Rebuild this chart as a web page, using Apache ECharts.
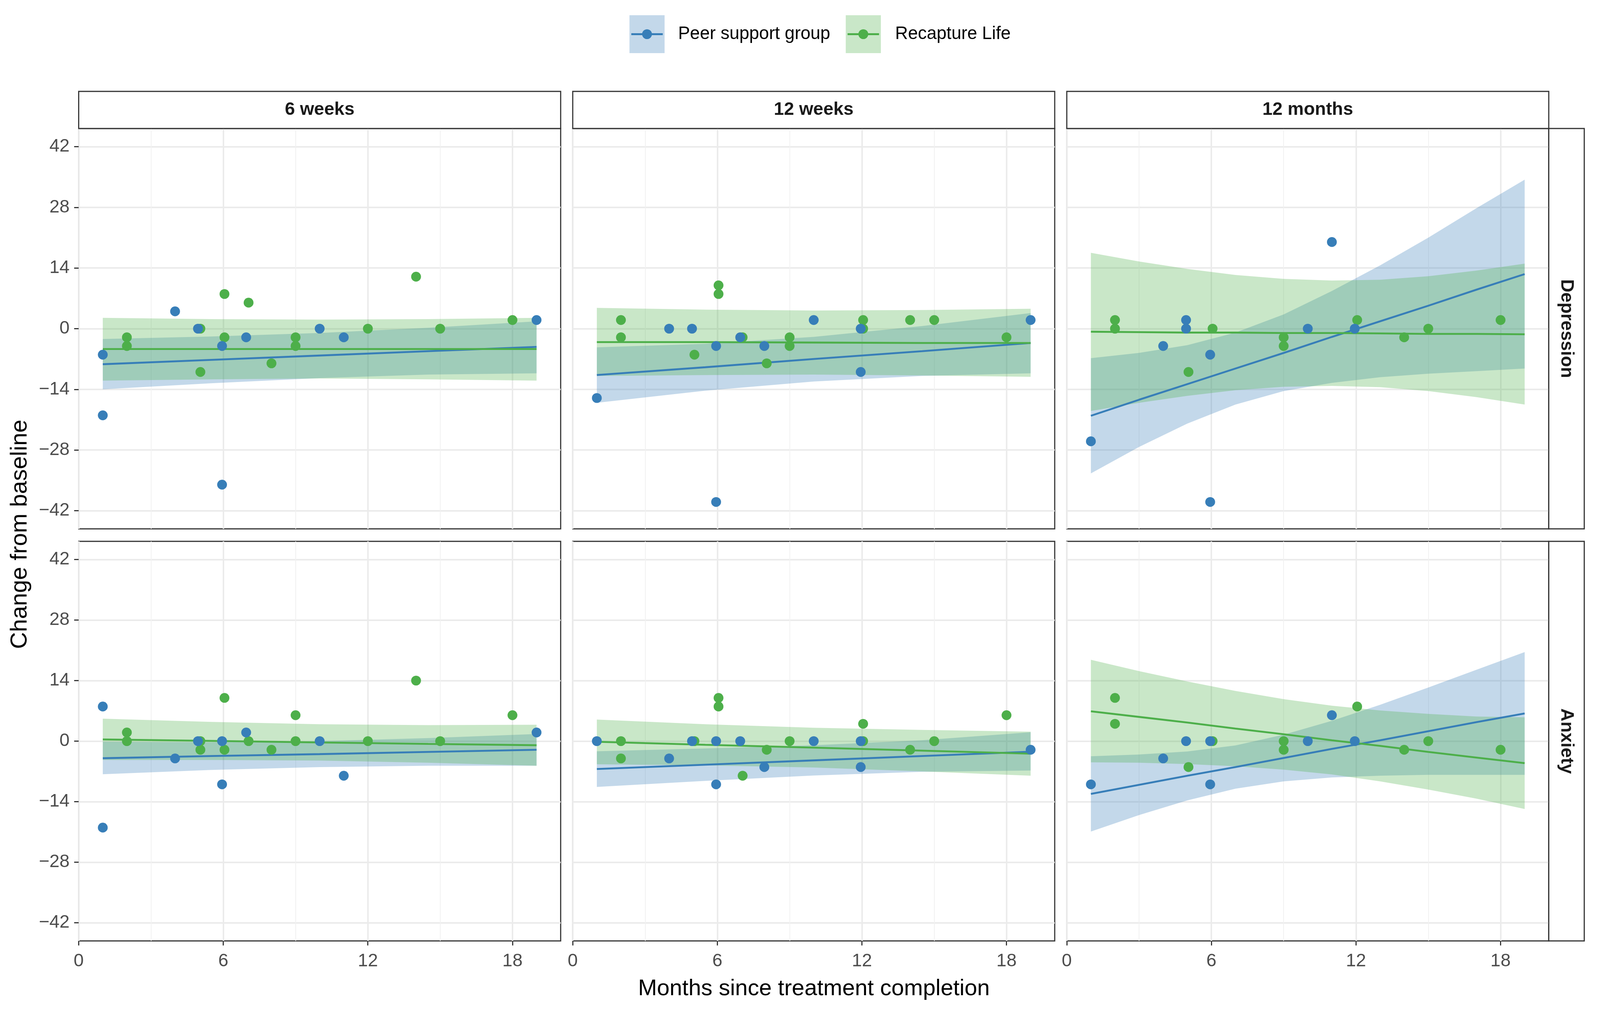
<!DOCTYPE html>
<html>
<head>
<meta charset="utf-8">
<script src="https://cdn.jsdelivr.net/npm/echarts@6/dist/echarts.min.js"></script>
<style>
html,body{margin:0;padding:0;background:#fff;overflow:hidden;}
#chart{width:100vw;height:100vh;}
</style>
</head>
<body>
<div id="chart"></div>
<script>
// ---------------- data ----------------
const TIMEPOINTS = ['6 weeks', '12 weeks', '12 months'];
const OUTCOMES = ['Depression', 'Anxiety'];
const GROUPS = ['Peer support group', 'Recapture Life'];
const X_TICKS = [0, 6, 12, 18];
const X_MINOR = [3, 9, 15];
const Y_TICKS = [-42, -28, -14, 0, 14, 28, 42];

// observed points [months, change] — Depression
const dep_6w_peer  = [[1,-6],[1,-20],[4,4],[5,0],[6,-4],[6,-36],[7,-2],[10,0],[11,-2],[19,2]];
const dep_6w_recap = [[2,-2],[2,-4],[5,0],[5,-10],[6,8],[6,-2],[7,6],[8,-8],[9,-2],[9,-4],[12,0],[14,12],[15,0],[18,2]];
const dep_12w_peer  = [[1,-16],[4,0],[5,0],[6,-4],[6,-40],[7,-2],[8,-4],[10,2],[12,0],[12,-10],[19,2]];
const dep_12w_recap = [[2,2],[2,-2],[5,-6],[6,10],[6,8],[7,-2],[8,-8],[9,-2],[9,-4],[12,2],[12,0],[14,2],[15,2],[18,-2]];
const dep_12m_peer  = [[1,-26],[4,-4],[5,2],[5,0],[6,-6],[6,-40],[10,0],[11,20],[12,0]];
const dep_12m_recap = [[2,2],[2,0],[5,-10],[6,0],[9,-2],[9,-4],[12,2],[14,-2],[15,0],[18,2]];
// Anxiety
const anx_6w_peer  = [[1,8],[1,-20],[4,-4],[5,0],[6,0],[6,-10],[7,2],[10,0],[11,-8],[19,2]];
const anx_6w_recap = [[2,2],[2,0],[5,0],[5,-2],[6,10],[6,-2],[7,0],[8,-2],[9,6],[9,0],[12,0],[14,14],[15,0],[18,6]];
const anx_12w_peer  = [[1,0],[4,-4],[5,0],[6,0],[6,-10],[7,0],[8,-6],[10,0],[12,0],[12,-6],[19,-2]];
const anx_12w_recap = [[2,0],[2,-4],[5,0],[6,10],[6,8],[7,-8],[8,-2],[9,0],[12,4],[12,0],[14,-2],[15,0],[18,6]];
const anx_12m_peer  = [[1,-10],[4,-4],[5,0],[6,0],[6,-10],[10,0],[11,6],[12,0]];
const anx_12m_recap = [[2,10],[2,4],[5,-6],[6,0],[9,0],[9,-2],[12,8],[14,-2],[15,0],[18,-2]];

// fitted lines with confidence bands
const FIT_X = [1, 5.5, 10, 14.5, 19];
const FIT_X_12M = [1, 3, 5, 7, 9, 11, 13, 15, 17, 19];

const dep_6w_peer_fit = [-8.2, -7.2, -6.2, -5.2, -4.2];
const dep_6w_peer_lo  = [-14.0, -12.6, -11.4, -10.6, -10.3];
const dep_6w_peer_hi  = [-2.4, -1.8, -1.0, 0.2, 1.7];
const dep_6w_recap_fit = [-4.7, -4.7, -4.7, -4.7, -4.7];
const dep_6w_recap_lo  = [-12.0, -11.7, -11.5, -11.7, -12.0];
const dep_6w_recap_hi  = [2.5, 2.2, 2.1, 2.2, 2.5];

const dep_12w_peer_fit = [-10.7, -8.9, -7.0, -5.2, -3.3];
const dep_12w_peer_lo  = [-17.1, -14.3, -12.2, -10.9, -10.3];
const dep_12w_peer_hi  = [-4.3, -3.5, -1.9, 0.6, 3.6];
const dep_12w_recap_fit = [-3.1, -3.1, -3.2, -3.3, -3.3];
const dep_12w_recap_lo  = [-10.9, -10.7, -10.6, -10.8, -11.1];
const dep_12w_recap_hi  = [4.8, 4.4, 4.2, 4.3, 4.6];

const dep_12m_peer_fit = [-20.1, -16.4, -12.8, -9.2, -5.6, -1.9, 1.7, 5.3, 9.0, 12.6];
const dep_12m_peer_lo  = [-33.4, -27.3, -21.9, -17.5, -14.4, -12.5, -11.2, -10.4, -9.8, -9.2];
const dep_12m_peer_hi  = [-6.8, -5.6, -3.8, -0.9, 3.3, 8.7, 14.6, 21.0, 27.8, 34.4];
const dep_12m_recap_fit = [-0.7, -0.8, -0.9, -0.9, -1.0, -1.0, -1.1, -1.2, -1.2, -1.3];
const dep_12m_recap_lo  = [-19.0, -17.1, -15.5, -14.2, -13.4, -13.2, -13.5, -14.4, -15.8, -17.5];
const dep_12m_recap_hi  = [17.5, 15.5, 13.8, 12.4, 11.5, 11.1, 11.3, 12.1, 13.4, 15.0];

const anx_6w_peer_fit = [-3.95, -3.45, -3.0, -2.5, -2.0];
const anx_6w_peer_lo  = [-7.65, -6.65, -6.0, -5.7, -5.7];
const anx_6w_peer_hi  = [-0.15, -0.25, 0.0, 0.7, 1.65];
const anx_6w_recap_fit = [0.4, 0.05, -0.3, -0.65, -0.95];
const anx_6w_recap_lo  = [-4.35, -4.35, -4.5, -5.0, -5.7];
const anx_6w_recap_hi  = [5.2, 4.45, 3.9, 3.7, 3.8];

const anx_12w_peer_fit = [-6.45, -5.45, -4.45, -3.45, -2.45];
const anx_12w_peer_lo  = [-10.6, -9.2, -7.95, -7.1, -6.8];
const anx_12w_peer_hi  = [-2.35, -1.7, -0.95, 0.2, 2.05];
const anx_12w_recap_fit = [-0.15, -0.85, -1.5, -2.2, -2.9];
const anx_12w_recap_lo  = [-5.35, -5.6, -6.1, -7.0, -8.0];
const anx_12w_recap_hi  = [5.0, 3.9, 3.1, 2.6, 2.2];

const anx_12m_peer_fit = [-12.2, -10.1, -8.0, -6.0, -3.9, -1.8, 0.2, 2.3, 4.4, 6.4];
const anx_12m_peer_lo  = [-20.9, -17.1, -13.7, -11.0, -9.3, -8.4, -8.0, -7.8, -7.8, -7.8];
const anx_12m_peer_hi  = [-3.5, -3.1, -2.4, -1.0, 1.5, 4.7, 8.4, 12.4, 16.5, 20.6];
const anx_12m_recap_fit = [6.9, 5.6, 4.3, 2.9, 1.6, 0.2, -1.1, -2.5, -3.8, -5.1];
const anx_12m_recap_lo  = [-4.9, -5.0, -5.3, -5.8, -6.6, -7.7, -9.3, -11.2, -13.3, -15.7];
const anx_12m_recap_hi  = [18.8, 16.2, 13.8, 11.6, 9.7, 8.2, 7.1, 6.3, 5.7, 5.5];

// ---------------- panel table ----------------
const PANELS = [
  {row:0, col:0, pts:[dep_6w_peer, dep_6w_recap], fx:FIT_X, fit:[dep_6w_peer_fit, dep_6w_recap_fit], lo:[dep_6w_peer_lo, dep_6w_recap_lo], hi:[dep_6w_peer_hi, dep_6w_recap_hi]},
  {row:0, col:1, pts:[dep_12w_peer, dep_12w_recap], fx:FIT_X, fit:[dep_12w_peer_fit, dep_12w_recap_fit], lo:[dep_12w_peer_lo, dep_12w_recap_lo], hi:[dep_12w_peer_hi, dep_12w_recap_hi]},
  {row:0, col:2, pts:[dep_12m_peer, dep_12m_recap], fx:FIT_X_12M, fit:[dep_12m_peer_fit, dep_12m_recap_fit], lo:[dep_12m_peer_lo, dep_12m_recap_lo], hi:[dep_12m_peer_hi, dep_12m_recap_hi]},
  {row:1, col:0, pts:[anx_6w_peer, anx_6w_recap], fx:FIT_X, fit:[anx_6w_peer_fit, anx_6w_recap_fit], lo:[anx_6w_peer_lo, anx_6w_recap_lo], hi:[anx_6w_peer_hi, anx_6w_recap_hi]},
  {row:1, col:1, pts:[anx_12w_peer, anx_12w_recap], fx:FIT_X, fit:[anx_12w_peer_fit, anx_12w_recap_fit], lo:[anx_12w_peer_lo, anx_12w_recap_lo], hi:[anx_12w_peer_hi, anx_12w_recap_hi]},
  {row:1, col:2, pts:[anx_12m_peer, anx_12m_recap], fx:FIT_X_12M, fit:[anx_12m_peer_fit, anx_12m_recap_fit], lo:[anx_12m_peer_lo, anx_12m_recap_lo], hi:[anx_12m_peer_hi, anx_12m_recap_hi]}
];

// ---------------- style / layout (designed on a 4372 x 2591 canvas, scaled to the viewport) ----------------
const VW = window.innerWidth || 4372, VH = window.innerHeight || 2591;
const SX = VW / 4372, SY = VH / 2591, SF = Math.sqrt(SX * SY);
const px = v => v * SX, py = v => v * SY, pf = v => v * SF;

const COLORS = ['#377EB8', '#4DAF4A'];
const FILLS = ['rgba(55,126,184,0.3)', 'rgba(77,175,74,0.3)'];
const FONT = '"Liberation Sans", Arial, Helvetica, sans-serif';
const COL_LEFT = [215, 1565, 2915];
const COL_W = 1317;
const ROW_TOP = [329, 1386];
const ROW_H = [1025, 1023];
const STRIP_TOP = 234;
const STRIP_W = 97;
const BORDER = '#333333';
const DODGE = 0.05;

const grids = [], xAxes = [], yAxes = [], series = [];
const minus = v => String(v).replace('-', '\u2212');

PANELS.forEach((p, i) => {
  grids.push({
    left: px(COL_LEFT[p.col]), top: py(ROW_TOP[p.row]), width: px(COL_W), height: py(ROW_H[p.row]),
    show: true, borderColor: BORDER, borderWidth: pf(3), backgroundColor: '#ffffff', containLabel: false
  });
  const bottom = p.row === 1, leftCol = p.col === 0;
  xAxes.push({
    type: 'value', gridIndex: i, min: 0, max: 20, position: 'bottom',
    axisLine: {show: false, onZero: false},
    axisTick: {show: bottom, customValues: X_TICKS, length: pf(12), lineStyle: {color: BORDER, width: pf(3)}},
    axisLabel: {show: bottom, customValues: X_TICKS, margin: pf(30), fontSize: pf(48), color: '#4D4D4D', fontFamily: FONT},
    splitLine: {show: true, lineStyle: {color: '#EBEBEB', width: pf(4)}}
  });
  yAxes.push({
    type: 'value', gridIndex: i, min: -46.2, max: 46.2,
    axisLine: {show: false, onZero: false},
    axisTick: {show: leftCol, customValues: Y_TICKS, length: pf(12), lineStyle: {color: BORDER, width: pf(3)}},
    axisLabel: {show: leftCol, customValues: Y_TICKS, margin: pf(24), fontSize: pf(48), color: '#4D4D4D', fontFamily: FONT, formatter: minus},
    splitLine: {show: true, lineStyle: {color: '#EBEBEB', width: pf(4)}}
  });
});
// minor vertical gridlines
PANELS.forEach((p, i) => {
  xAxes.push({
    type: 'value', gridIndex: i, min: 0, max: 20, position: 'top',
    axisLine: {show: false, onZero: false},
    axisTick: {show: false, customValues: X_MINOR},
    axisLabel: {show: false, customValues: X_MINOR},
    splitLine: {show: true, lineStyle: {color: '#F1F1F1', width: pf(2)}}
  });
});

PANELS.forEach((p, i) => {
  // ribbons
  [0, 1].forEach(g => {
    const xs = p.fx, lo = p.lo[g], hi = p.hi[g];
    series.push({
      type: 'custom', name: GROUPS[g], xAxisIndex: i, yAxisIndex: i, z: 1, silent: true, clip: true,
      data: xs.map((x, k) => [x, lo[k], hi[k]]),
      encode: {x: 0, y: [1, 2]},
      renderItem: (params, api) => {
        if (params.dataIndex !== 0) return null;
        const top = xs.map((x, k) => api.coord([x, hi[k]]));
        const bot = xs.map((x, k) => api.coord([x, lo[k]])).reverse();
        return {type: 'polygon', shape: {points: top.concat(bot)}, style: {fill: FILLS[g]}};
      }
    });
  });
  // fitted lines
  [0, 1].forEach(g => {
    series.push({
      type: 'line', name: GROUPS[g], xAxisIndex: i, yAxisIndex: i, z: 2, silent: true,
      data: p.fx.map((x, k) => [x, p.fit[g][k]]),
      symbol: 'none', lineStyle: {color: COLORS[g], width: pf(5)}, itemStyle: {color: COLORS[g]}
    });
  });
  // points (dodged where both groups share an x value)
  const xsA = new Set(p.pts[0].map(d => d[0]));
  const xsB = new Set(p.pts[1].map(d => d[0]));
  [1, 0].forEach(g => {
    const other = g === 0 ? xsB : xsA;
    const shift = g === 0 ? -DODGE : DODGE;
    series.push({
      type: 'scatter', name: GROUPS[g], xAxisIndex: i, yAxisIndex: i, z: 3, silent: true,
      data: p.pts[g].map(d => [other.has(d[0]) ? d[0] + shift : d[0], d[1]]),
      symbol: 'circle', symbolSize: pf(26), itemStyle: {color: COLORS[g], opacity: 1}
    });
  });
});

// strips, titles and legend as graphic elements
const graphics = [];
TIMEPOINTS.forEach((t, c) => {
  graphics.push({type: 'rect', shape: {x: px(COL_LEFT[c]), y: py(STRIP_TOP), width: px(COL_W), height: py(ROW_TOP[0] - STRIP_TOP)},
    style: {fill: '#ffffff', stroke: BORDER, lineWidth: pf(3)}, z: 10});
  graphics.push({type: 'text', x: px(COL_LEFT[c] + COL_W / 2), y: py((STRIP_TOP + ROW_TOP[0]) / 2), z: 11,
    style: {text: t, fontSize: pf(48), fontWeight: 'bold', fill: '#1A1A1A', fontFamily: FONT, align: 'center', verticalAlign: 'middle'}});
});
OUTCOMES.forEach((o, r) => {
  const x0 = COL_LEFT[2] + COL_W;
  graphics.push({type: 'rect', shape: {x: px(x0), y: py(ROW_TOP[r]), width: px(STRIP_W), height: py(ROW_H[r])},
    style: {fill: '#ffffff', stroke: BORDER, lineWidth: pf(3)}, z: 10});
  graphics.push({type: 'text', x: px(x0 + STRIP_W / 2), y: py(ROW_TOP[r] + ROW_H[r] / 2), rotation: -Math.PI / 2, z: 11,
    style: {text: o, fontSize: pf(48), fontWeight: 'bold', fill: '#1A1A1A', fontFamily: FONT, align: 'center', verticalAlign: 'middle'}});
});
graphics.push({type: 'text', x: px(2224), y: py(2532), z: 11,
  style: {text: 'Months since treatment completion', fontSize: pf(60), fill: '#000000', fontFamily: FONT, align: 'center', verticalAlign: 'middle'}});
graphics.push({type: 'text', x: px(55), y: py(1368), rotation: Math.PI / 2, z: 11,
  style: {text: 'Change from baseline', fontSize: pf(62), fill: '#000000', fontFamily: FONT, align: 'center', verticalAlign: 'middle'}});

const LEG_X = [1720, 2311], LEG_TEXT_X = [1853, 2446];
GROUPS.forEach((g, k) => {
  const x = LEG_X[k], y = 39, w = 96, h = 97, cy = y + h / 2;
  graphics.push({type: 'rect', shape: {x: px(x), y: py(y), width: px(w), height: py(h)}, style: {fill: FILLS[k]}, z: 10});
  graphics.push({type: 'line', shape: {x1: px(x + 5), y1: py(cy), x2: px(x + w - 5), y2: py(cy)}, style: {stroke: COLORS[k], lineWidth: pf(5)}, z: 11});
  graphics.push({type: 'circle', shape: {cx: px(x + w / 2), cy: py(cy), r: pf(13)}, style: {fill: COLORS[k]}, z: 12});
  graphics.push({type: 'text', x: px(LEG_TEXT_X[k]), y: py(cy), z: 11,
    style: {text: g, fontSize: pf(47), fill: '#000000', fontFamily: FONT, align: 'left', verticalAlign: 'middle'}});
});

const chart = echarts.init(document.getElementById('chart'), null, {renderer: 'canvas'});
chart.setOption({
  animation: false,
  backgroundColor: '#ffffff',
  grid: grids,
  xAxis: xAxes,
  yAxis: yAxes,
  series: series,
  graphic: graphics
});
</script>
</body>
</html>
